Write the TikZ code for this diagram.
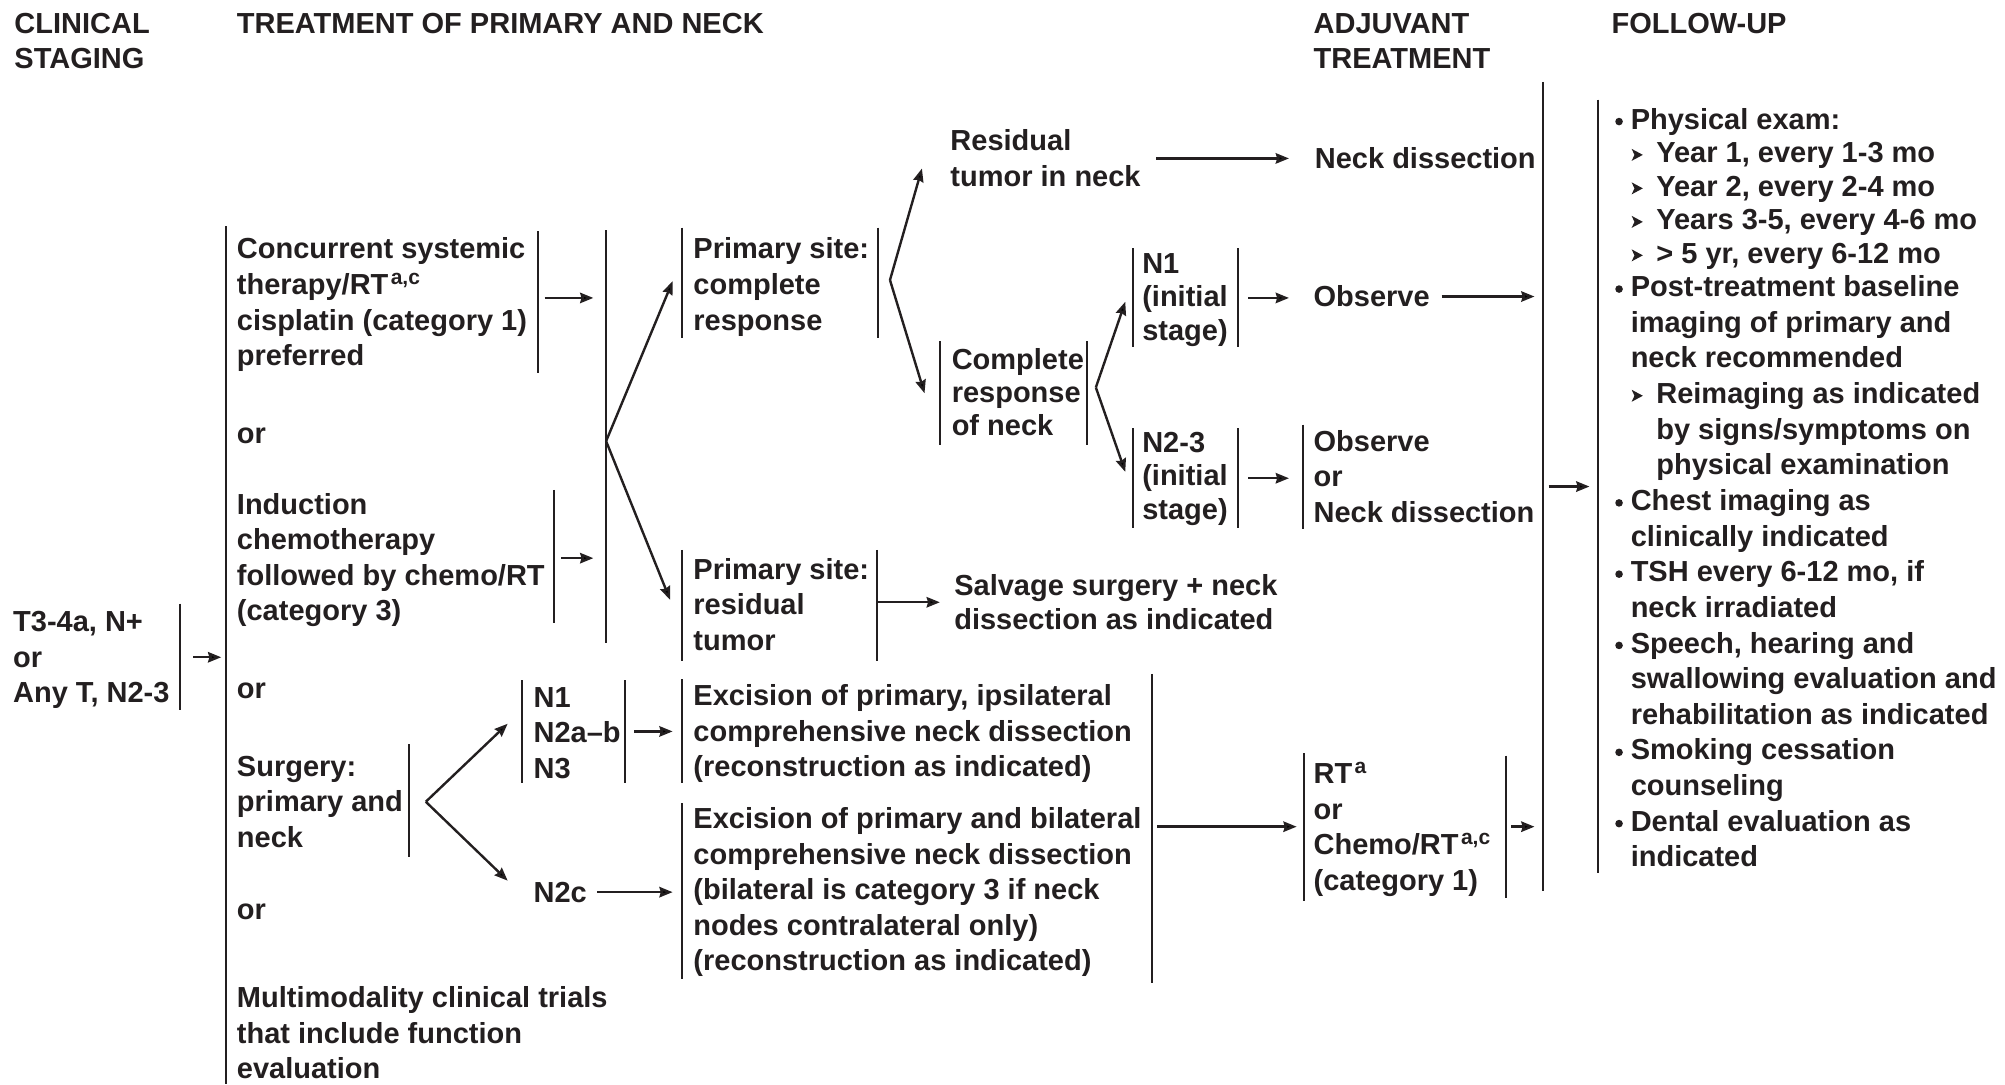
\documentclass[tikz,border=0pt]{standalone}
\usepackage{fontspec}
\setmainfont{Liberation Sans}
\usetikzlibrary{arrows.meta,calc}
\definecolor{ink}{RGB}{35,31,32}
\def\LS{27.81}
\def\TS{25.96}
\newcommand\sups[1]{\kern1.2pt\raisebox{0.36em}{\fontsize{10.5pt}{10pt}\selectfont #1}}
\newcommand\fubul{\makebox[8.95pt][l]{\tikz[baseline=0pt]{\path (0pt,0pt) (1pt,0pt); \fill (3.1pt,3.8pt) circle (1.9pt);}}}
\newcommand\subb{\tikz[baseline=0pt]\fill (0pt,0.9pt) -- (5.6pt,3.9pt) -- (0pt,6.9pt) -- (1.4pt,3.9pt) -- cycle;}
\newcommand\subi{\hspace*{9.4pt}\makebox[12.35pt][l]{\subb}}
\newcommand\indA{\hspace*{8.95pt}}
\newcommand\indB{\hspace*{21.75pt}}
\newcommand\mybar[4]{\coordinate (#1) at (#2,{(#3+#4)/2}); \draw[barline] (#2,#3) -- (#2,#4);}
\begin{document}
\begin{tikzpicture}[x=0.6394pt,y=-0.6394pt,
  txt/.style={anchor=base west, align=left, inner sep=0pt, text=ink, font=\fontsize{14.5pt}{17.78pt}\selectfont\bfseries},
  tight/.style={txt, font=\fontsize{14.5pt}{16.6pt}\selectfont\bfseries},
  arr/.style={draw=ink, line width=1.2pt, -{Stealth[length=6.6pt,width=5.2pt,inset=0.7pt]}},
  barline/.style={draw=ink, line width=1pt}]
\useasboundingbox (0,0) rectangle (1568,848);

% headers (anchor = baseline of the last line)
\node[txt] (hclin) at (11,{26+\LS}) {CLINICAL\\STAGING};
\node[txt] (htreat) at (185,26) {TREATMENT OF PRIMARY AND NECK};
\node[txt] (hadj) at (1027,{26+\LS}) {ADJUVANT\\TREATMENT};
\node[txt] (hfu) at (1260,26) {FOLLOW-UP};

% text blocks
\node[txt] (t3) at (10,{494+2*\LS}) {T3-4a, N+\\or\\Any T, N2-3};
\node[txt] (conc) at (185,{202.5+3*\LS}) {Concurrent systemic\\therapy/RT\sups{a,c}\\cisplatin (category 1)\\preferred};
\node[txt] (or1) at (185,347) {or};
\node[txt] (ind) at (185,{402+3*\LS}) {Induction\\chemotherapy\\followed by chemo/RT\\(category 3)};
\node[txt] (or2) at (185,546) {or};
\node[txt] (surg) at (185,{607+2*\LS}) {Surgery:\\primary and\\neck};
\node[txt] (or3) at (185,719) {or};
\node[txt] (multi) at (185,{788+2*\LS}) {Multimodality clinical trials\\that include function\\evaluation};
\node[txt] (pcr) at (542,{202.5+2*\LS}) {Primary site:\\complete\\response};
\node[txt] (prt) at (542,{453+2*\LS}) {Primary site:\\residual\\tumor};
\node[tight] (salv) at (746,{466+\TS}) {Salvage surgery + neck\\dissection as indicated};
\node[txt] (resid) at (743,{118+\LS}) {Residual\\tumor in neck};
\node[txt] (nd1) at (1028,132) {Neck dissection};
\node[tight] (crn) at (744,{289+2*\TS}) {Complete\\response\\of neck};
\node[tight] (n1) at (893,{214+2*\TS}) {N1\\(initial\\stage)};
\node[tight] (n23) at (893,{354+2*\TS}) {N2-3\\(initial\\stage)};
\node[txt] (obs1) at (1027,240) {Observe};
\node[txt] (obs2) at (1027,{353+2*\LS}) {Observe\\or\\Neck dissection};
\node[txt] (nn) at (417,{553+2*\LS}) {N1\\N2a–b\\N3};
\node[txt] (n2c) at (417,705.5) {N2c};
\node[txt] (exc1) at (542,{552+2*\LS}) {Excision of primary, ipsilateral\\comprehensive neck dissection\\(reconstruction as indicated)};
\node[txt] (exc2) at (542,{648+4*\LS}) {Excision of primary and bilateral\\comprehensive neck dissection\\(bilateral is category 3 if neck\\nodes contralateral only)\\(reconstruction as indicated)};
\node[txt] (rt) at (1027,{613+3*\LS}) {RT\sups{a}\\or\\Chemo/RT\sups{a,c}\\(category 1)};
\node[txt, font=\fontsize{14.5pt}{17.82pt}\selectfont\bfseries] (fu) at (1261,677.9) {%
\fubul Physical exam:\\[-1.07pt]
\subi Year 1, every 1-3 mo\\[-1.07pt]
\subi Year 2, every 2-4 mo\\[-1.07pt]
\subi Years 3-5, every 4-6 mo\\[-1.07pt]
\subi > 5 yr, every 6-12 mo\\[-1.07pt]
\fubul Post-treatment baseline\\
\indA imaging of primary and\\
\indA neck recommended\\
\subi Reimaging as indicated\\
\indB by signs/symptoms on\\
\indB physical examination\\
\fubul Chest imaging as\\
\indA clinically indicated\\
\fubul TSH every 6-12 mo, if\\
\indA neck irradiated\\
\fubul Speech, hearing and\\
\indA swallowing evaluation and\\
\indA rehabilitation as indicated\\
\fubul Smoking cessation\\
\indA counseling\\
\fubul Dental evaluation as\\
\indA indicated};

% bars
\mybar{bT3}{141}{472}{555}
\mybar{bA}{177}{177}{848}
\mybar{bCR}{421}{181}{292}
\mybar{bIR}{433}{383}{487}
\mybar{bB}{474}{180}{503}
\mybar{bPCl}{533}{178}{264}
\mybar{bPCr}{687}{178}{264}
\mybar{bPRl}{533}{430}{517}
\mybar{bPRr}{686}{430}{517}
\mybar{bCNl}{735}{267}{348}
\mybar{bCNr}{850}{267}{348}
\mybar{bN1l}{886}{194}{271}
\mybar{bN1r}{968}{194}{271}
\mybar{bN2l}{886}{335}{413}
\mybar{bN2r}{968}{335}{413}
\mybar{bObs}{1019}{332}{414}
\mybar{bC}{1207}{64}{697}
\mybar{bFU}{1250}{78}{683}
\mybar{bSR}{320}{582}{670}
\mybar{bNNl}{408}{532}{612}
\mybar{bNNr}{489}{532}{612}
\mybar{bE1l}{533}{531}{612}
\mybar{bE2l}{533}{628}{766}
\mybar{bEr}{901}{527}{769}
\mybar{bRTl}{1020}{589}{705}
\mybar{bRTr}{1178}{591}{702}

% arrows
\draw[arr] ($(bT3)+(10,0.5)$) -- ($(bT3 -| bA)+(-4,0.5)$);
\draw[arr] ($(bCR)+(5,-3.5)$) -- ($(bCR -| bB)+(-10,-3.5)$);
\draw[arr] ($(bIR)+(6,1.5)$) -- ($(bIR -| bB)+(-10,1.5)$);
\coordinate (vB) at ($(bB)+(0,3.5)$);
\draw[arr] (vB) -- ($(bPCl)+(-7,-1)$);
\draw[arr] (vB) -- ($(bPRl)+(-9,-4.5)$);
\coordinate (vPC) at ($(bPCr)+(9,-2)$);
\draw[arr] (vPC) -- ($(resid.west)+(-22,8)$);
\draw[arr] (vPC) -- ($(bCNl)+(-12,0)$);
\draw[arr] ($(bPRr)+(1,-2.5)$) -- ($(bPRr -| salv.west)+(-11,-2.5)$);
\draw[arr] ($(resid.east |- nd1.west)+(12,0)$) -- ($(nd1.west)+(-20,0)$);
\coordinate (vCN) at ($(bCNr)+(7,-4.5)$);
\draw[arr] (vCN) -- ($(bN1l)+(-6,3.5)$);
\draw[arr] (vCN) -- ($(bN2l)+(-6,-5)$);
\draw[arr] ($(bN1r)+(8,0.5)$) -- ($(bN1r -| obs1.west)+(-19,0.5)$);
\draw[arr] ($(obs1.east)+(9,0)$) -- ($(obs1.east -| bC)+(-7,0)$);
\draw[arr] ($(bN2r)+(8,0)$) -- ($(bN2r -| bObs)+(-11,0)$);
\draw[arr] ($(bC)+(4,0)$) -- ($(bC -| bFU)+(-7,0)$);
\coordinate (vS) at ($(bSR)+(13,1)$);
\draw[arr] (vS) -- ($(bNNl)+(-11,-6)$);
\draw[arr] (vS) -- ($(n2c.west)+(-20,-9)$);
\draw[arr] ($(bNNr)+(7,0)$) -- ($(bNNr -| bE1l)+(-7,0)$);
\draw[arr] ($(n2c.east)+(8,0)$) -- ($(n2c.east -| bE2l)+(-7,0)$);
\draw[arr] ($(bEr)+(4,-1.5)$) -- ($(bEr -| bRTl)+(-6,-1.5)$);
\draw[arr] ($(bRTr)+(4,0)$) -- ($(bRTr -| bC)+(-7,0)$);
\end{tikzpicture}
\end{document}
